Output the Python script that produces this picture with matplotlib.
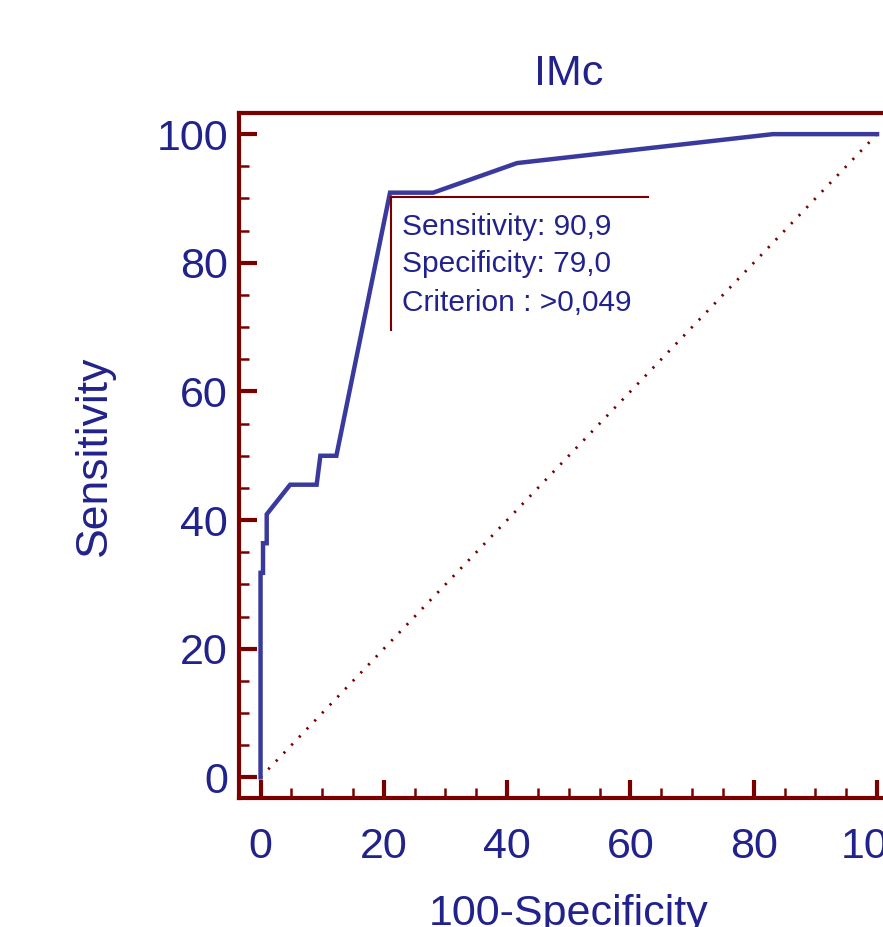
import numpy as np
import matplotlib
matplotlib.use('Agg')
import matplotlib.pyplot as plt
from matplotlib.ticker import MultipleLocator

# ROC curve points
fpr = [0, 0, 0.4, 0.4, 1.0, 1.0, 4.8, 9.1, 9.7, 12.3, 21.0, 28.0, 41.6, 83.1, 100]
tpr = [0, 31.8, 31.8, 36.4, 36.4, 40.9, 45.5, 45.5, 50.0, 50.0, 90.9, 90.9, 95.5, 100, 100]
# chance diagonal
diag = [0, 100]
# criterion marker
crit_x = 21.2
crit_y = 90.3
crit_lines = ["Sensitivity: 90,9", "Specificity: 79,0", "Criterion : >0,049"]
crit_base = [84.3, 78.5, 72.5]
xticks = [0, 20, 40, 60, 80, 100]
yticks = [0, 20, 40, 60, 80, 100]

red = '#7a0000'
navy = '#22228c'
blue = '#3a3a9e'

plt.rcParams['font.family'] = ['Liberation Sans', 'DejaVu Sans']

fig = plt.figure(figsize=(8.83, 9.27), dpi=100)
ax = fig.add_axes([0.2707, 0.1392, 0.747, 0.739])

ax.plot(diag, diag, color=red, lw=2.0, linestyle=(0, (0.8, 3.2)))
ax.plot(fpr, tpr, color=blue, lw=3.2, solid_joinstyle='miter')

# criterion marker lines
ax.plot([crit_x, crit_x], [crit_y, 69.6], color=red, lw=1.5)
ax.plot([crit_x, 62.9], [crit_y, crit_y], color=red, lw=1.5)
for s, yb in zip(crit_lines, crit_base):
  ax.text(22.9, yb, s, color=navy, fontsize=21.5, va='baseline', ha='left')

ax.set_xlim(-3.49, 103.5)
ax.set_ylim(-3.2, 103.3)
ax.set_xticks(xticks)
ax.set_yticks(yticks)
ax.xaxis.set_minor_locator(MultipleLocator(5))
ax.yaxis.set_minor_locator(MultipleLocator(5))

for sp in ax.spines.values():
  sp.set_color(red)
  sp.set_linewidth(3)

ax.tick_params(which='major', direction='in', length=13, width=3, color=red,
               labelcolor=navy, labelsize=31)
ax.tick_params(which='minor', direction='in', length=7, width=1.8, color=red)
ax.tick_params(axis='x', which='major', pad=21)
ax.tick_params(axis='y', which='major', pad=8)

ax.set_title('IMc', color=navy, fontsize=31, pad=20)
ax.set_xlabel('100-Specificity', color=navy, fontsize=31, labelpad=19)
ax.set_ylabel('Sensitivity', color=navy, fontsize=32, labelpad=30)

fig.savefig('out.png', dpi=100)
